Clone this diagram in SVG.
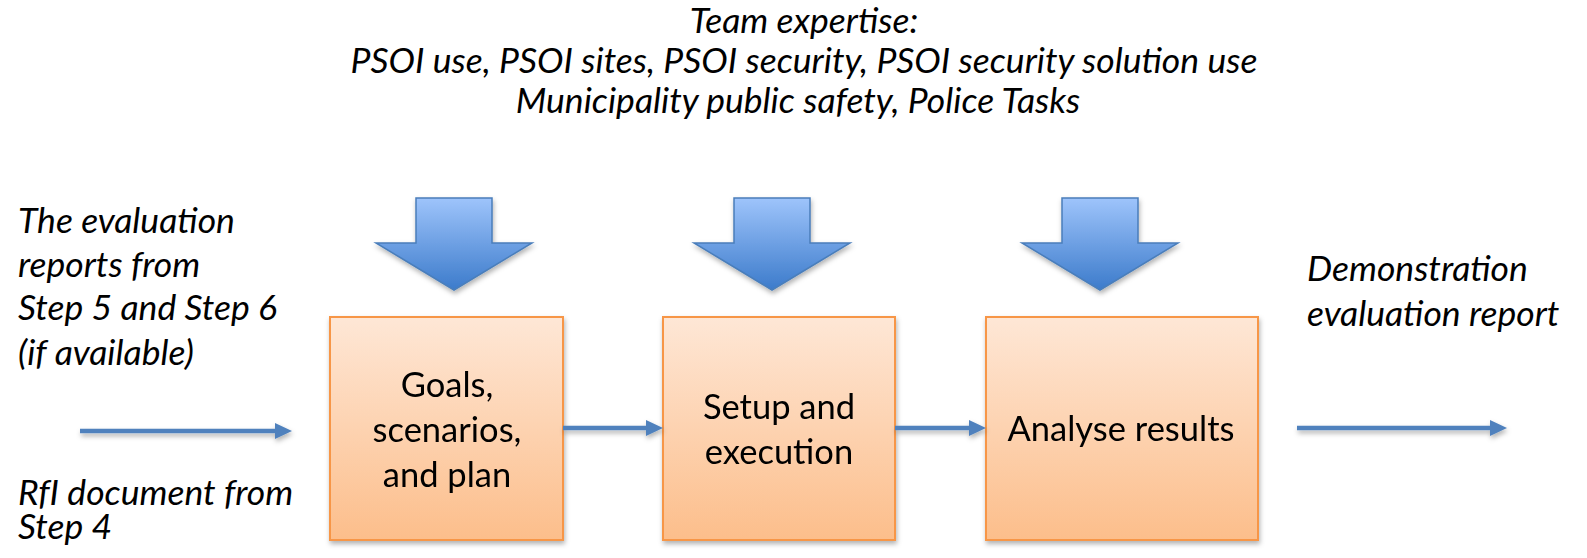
<svg xmlns="http://www.w3.org/2000/svg" width="1587" height="558" viewBox="0 0 1587 558">
<style>
.it{font-family:Lato,"Open Sans",sans-serif;font-style:italic;font-size:35.5px;fill:#000}
.bx{font-family:Lato,"Open Sans",sans-serif;font-size:34.5px;fill:#000;text-anchor:middle}
.box{fill:url(#og);stroke:#f79646;stroke-width:2}
.blk{fill:url(#bg);stroke:#4a7ebb;stroke-width:1.5}
.con{stroke:#4f81bd;stroke-width:4.5;fill:none}
.hd{fill:#4f81bd}
</style>
<defs>
<linearGradient id="og" x1="0" y1="0" x2="0" y2="1">
<stop offset="0" stop-color="#fee7d6"/>
<stop offset="1" stop-color="#fcbe8b"/>
</linearGradient>
<linearGradient id="bg" x1="0" y1="0" x2="0" y2="1">
<stop offset="0" stop-color="#9ec4fb"/>
<stop offset="1" stop-color="#3c7bcb"/>
</linearGradient>
<filter id="sh" filterUnits="userSpaceOnUse" x="0" y="0" width="1587" height="558">
<feDropShadow dx="1" dy="3" stdDeviation="2.5" flood-color="#000" flood-opacity="0.3"/>
</filter>
</defs>
<g id="title">
<text class="it" text-anchor="middle" x="804" y="33">Team expertise:</text>
<text class="it" text-anchor="middle" x="804" y="73">PSOI use, PSOI sites, PSOI security, PSOI security solution use</text>
<text class="it" text-anchor="middle" x="798" y="113">Municipality public safety, Police Tasks</text>
</g>
<g id="input-label">
<text class="it" x="18" y="233">The evaluation</text>
<text class="it" x="18" y="277">reports from</text>
<text class="it" x="18" y="320">Step 5 and Step 6</text>
<text class="it" x="18" y="365">(if available)</text>
<text class="it"><tspan x="18" y="505">RfI document from</tspan><tspan x="18" y="539">Step 4</tspan></text>
</g>
<g id="output-label">
<text class="it" x="1307" y="281">Demonstration</text>
<text class="it" x="1307" y="326">evaluation report</text>
</g>
<g id="expertise-arrows" filter="url(#sh)">
<path class="blk" d="M416,198 H492 V243 H532 L454,290 L376,243 H416 Z"/>
<path class="blk" d="M734,198 H810 V243 H850 L772,290 L694,243 H734 Z"/>
<path class="blk" d="M1062,198 H1138 V243 H1178 L1100,290 L1022,243 H1062 Z"/>
</g>
<g id="goals" filter="url(#sh)">
<rect class="box" x="330" y="317" width="233" height="223"/>
<text class="bx" x="447" y="397">Goals,</text>
<text class="bx" x="447" y="442">scenarios,</text>
<text class="bx" x="447" y="487">and plan</text>
</g>
<g id="setup" filter="url(#sh)">
<rect class="box" x="663" y="317" width="232" height="223"/>
<text class="bx" x="779" y="419">Setup and</text>
<text class="bx" x="779" y="464">execution</text>
</g>
<g id="analyse" filter="url(#sh)">
<rect class="box" x="986" y="317" width="272" height="223"/>
<text class="bx" x="1121" y="441">Analyse results</text>
</g>
<g id="connectors" filter="url(#sh)">
<line class="con" x1="80" y1="431" x2="276" y2="431"/>
<path class="hd" d="M275,423 L292,431 L275,439 Z"/>
<line class="con" x1="563" y1="428" x2="647" y2="428"/>
<path class="hd" d="M646,420 L663,428 L646,436 Z"/>
<line class="con" x1="895" y1="428" x2="970" y2="428"/>
<path class="hd" d="M969,420 L986,428 L969,436 Z"/>
<line class="con" x1="1297" y1="428" x2="1491" y2="428"/>
<path class="hd" d="M1490,420 L1507,428 L1490,436 Z"/>
</g>
</svg>
